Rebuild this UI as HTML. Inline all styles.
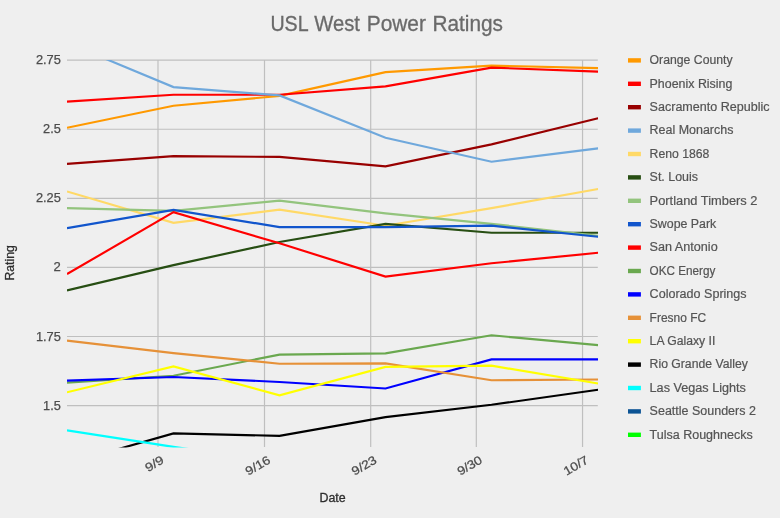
<!DOCTYPE html>
<html lang="en">
<head>
<meta charset="utf-8">
<title>USL West Power Ratings</title>
<style>
html,body{margin:0;padding:0;background:#efefef;}
body{width:780px;height:518px;overflow:hidden;}
svg{display:block;will-change:transform;}
text{font-family:"Liberation Sans",sans-serif;}
</style>
</head>
<body>
<svg width="780" height="518" viewBox="0 0 780 518">
<rect x="0" y="0" width="780" height="518" fill="#efefef"/>
<defs><clipPath id="plot"><rect x="67" y="60" width="531.1" height="387.45"/></clipPath></defs>
<text y="31.3" font-size="21.5" fill="#6a6a6a" stroke="#6a6a6a" stroke-width="0.3" lengthAdjust="spacingAndGlyphs"><tspan x="270.4" textLength="37.46" lengthAdjust="spacingAndGlyphs">USL</tspan> <tspan x="314.3" textLength="45.67" lengthAdjust="spacingAndGlyphs">West</tspan> <tspan x="366.73" textLength="59.23" lengthAdjust="spacingAndGlyphs">Power</tspan> <tspan x="432.43" textLength="70.59" lengthAdjust="spacingAndGlyphs">Ratings</tspan></text>
<g stroke="#bfbfbf" stroke-width="1.2" fill="none">
<line x1="158" y1="60" x2="158" y2="447"/>
<line x1="264.5" y1="60" x2="264.5" y2="447"/>
<line x1="370.7" y1="60" x2="370.7" y2="447"/>
<line x1="476.3" y1="60" x2="476.3" y2="447"/>
<line x1="582.55" y1="60" x2="582.55" y2="447"/>
</g>
<g stroke="#bfbfbf" stroke-width="1.15" fill="none">
<line x1="67" y1="60.15" x2="597.8" y2="60.15"/>
<line x1="67" y1="129.24" x2="597.8" y2="129.24"/>
<line x1="67" y1="198.33" x2="597.8" y2="198.33"/>
<line x1="67" y1="267.42" x2="597.8" y2="267.42"/>
<line x1="67" y1="336.51" x2="597.8" y2="336.51"/>
<line x1="67" y1="405.60" x2="597.8" y2="405.60"/>
</g>
<g clip-path="url(#plot)" fill="none" stroke-width="2.15" stroke-linejoin="miter">
<polyline stroke="#ff9900" points="67,127.8 173.5,105.7 279.5,95.9 385.5,72.1 491.5,65.6 598.1,68.1"/>
<polyline stroke="#ff0000" points="67,101.7 173.5,94.7 279.5,94.7 385.5,86.4 491.5,67.6 598.1,71.6"/>
<polyline stroke="#980000" points="67,163.9 173.5,156.1 279.5,156.9 385.5,166.4 491.5,144.4 598.1,118.3"/>
<polyline stroke="#6fa8dc" points="67,42.8 173.5,87.1 279.5,95.4 385.5,137.8 491.5,161.7 598.1,148.4"/>
<polyline stroke="#ffd966" points="67,191.5 173.5,222.9 279.5,209.6 385.5,225.7 491.5,208.1 598.1,189"/>
<polyline stroke="#274e13" points="67,290.4 173.5,265.1 279.5,242 385.5,223.9 491.5,232.7 598.1,232.7"/>
<polyline stroke="#93c47d" points="67,208.1 173.5,210.9 279.5,200.6 385.5,213.4 491.5,223.9 598.1,235.7"/>
<polyline stroke="#1155cc" points="67,228.2 173.5,209.9 279.5,227.1 385.5,227.1 491.5,225.7 598.1,236.7"/>
<polyline stroke="#ff0000" points="67,274.1 173.5,212.1 279.5,243.3 385.5,276.6 491.5,263.3 598.1,252.8"/>
<polyline stroke="#6aa84f" points="67,382.7 173.5,375.7 279.5,354.6 385.5,353.4 491.5,335.3 598.1,345.1"/>
<polyline stroke="#0000ff" points="67,380.7 173.5,377 279.5,382 385.5,388.5 491.5,359.4 598.1,359.4"/>
<polyline stroke="#e69138" points="67,340.6 173.5,353.1 279.5,363.7 385.5,363.4 491.5,380.2 598.1,379.5"/>
<polyline stroke="#ffff00" points="67,392.3 173.5,366.4 279.5,395.3 385.5,366.9 491.5,365.7 598.1,383.5"/>
<polyline stroke="#000000" points="67,463.6 173.5,433.4 279.5,435.9 385.5,417.1 491.5,404.8 598.1,389.8"/>
<polyline stroke="#00ffff" points="67,430.4 173.5,446.9 279.5,462 385.5,480 491.5,500 598.1,520"/>
</g>
<g font-size="12" fill="#4c4c4c" stroke="#4c4c4c" stroke-width="0.25" text-anchor="end">
<text x="60.8" y="64.15" textLength="24.9" lengthAdjust="spacingAndGlyphs">2.75</text>
<text x="60.8" y="133.24" textLength="17.7" lengthAdjust="spacingAndGlyphs">2.5</text>
<text x="60.8" y="202.33" textLength="24.9" lengthAdjust="spacingAndGlyphs">2.25</text>
<text x="60.8" y="271.42" textLength="7.3" lengthAdjust="spacingAndGlyphs">2</text>
<text x="60.8" y="340.51" textLength="24.9" lengthAdjust="spacingAndGlyphs">1.75</text>
<text x="60.8" y="409.6" textLength="17.7" lengthAdjust="spacingAndGlyphs">1.5</text>
</g>
<g font-size="12" fill="#4c4c4c" stroke="#4c4c4c" stroke-width="0.25" text-anchor="end">
<text x="164.9" y="462.4" transform="rotate(-30 164.9 462.4)" textLength="19.6" lengthAdjust="spacingAndGlyphs">9/9</text>
<text x="271.4" y="462.4" transform="rotate(-30 271.4 462.4)" textLength="26.6" lengthAdjust="spacingAndGlyphs">9/16</text>
<text x="377.6" y="462.4" transform="rotate(-30 377.6 462.4)" textLength="26.6" lengthAdjust="spacingAndGlyphs">9/23</text>
<text x="483.2" y="462.4" transform="rotate(-30 483.2 462.4)" textLength="26.6" lengthAdjust="spacingAndGlyphs">9/30</text>
<text x="589.45" y="462.4" transform="rotate(-30 589.45 462.4)" textLength="26.6" lengthAdjust="spacingAndGlyphs">10/7</text>
</g>
<text x="332.6" y="501.7" text-anchor="middle" font-size="12" fill="#2e2e2e" stroke="#2e2e2e" stroke-width="0.3" textLength="26.2" lengthAdjust="spacingAndGlyphs">Date</text>
<text x="14.2" y="262.9" text-anchor="middle" font-size="12" fill="#2e2e2e" stroke="#2e2e2e" stroke-width="0.3" transform="rotate(-90 14.2 262.9)" textLength="35.3" lengthAdjust="spacingAndGlyphs">Rating</text>
<g font-size="12" fill="#545454">
<rect x="628" y="58.2" width="12.9" height="4.4" fill="#ff9900"/>
<text stroke="#545454" stroke-width="0.2" x="649.6" y="64.1" textLength="83" lengthAdjust="spacingAndGlyphs">Orange County</text>
<rect x="628" y="81.6" width="12.9" height="4.4" fill="#ff0000"/>
<text stroke="#545454" stroke-width="0.2" x="649.6" y="87.5" textLength="82.8" lengthAdjust="spacingAndGlyphs">Phoenix Rising</text>
<rect x="628" y="105" width="12.9" height="4.4" fill="#980000"/>
<text stroke="#545454" stroke-width="0.2" x="649.6" y="110.9" textLength="119.9" lengthAdjust="spacingAndGlyphs">Sacramento Republic</text>
<rect x="628" y="128.4" width="12.9" height="4.4" fill="#6fa8dc"/>
<text stroke="#545454" stroke-width="0.2" x="649.6" y="134.3" textLength="83.8" lengthAdjust="spacingAndGlyphs">Real Monarchs</text>
<rect x="628" y="151.8" width="12.9" height="4.4" fill="#ffd966"/>
<text stroke="#545454" stroke-width="0.2" x="649.6" y="157.7" textLength="59.8" lengthAdjust="spacingAndGlyphs">Reno 1868</text>
<rect x="628" y="175.2" width="12.9" height="4.4" fill="#274e13"/>
<text stroke="#545454" stroke-width="0.2" x="649.6" y="181.1" textLength="48.4" lengthAdjust="spacingAndGlyphs">St. Louis</text>
<rect x="628" y="198.6" width="12.9" height="4.4" fill="#93c47d"/>
<text stroke="#545454" stroke-width="0.2" x="649.6" y="204.5" textLength="107.9" lengthAdjust="spacingAndGlyphs">Portland Timbers 2</text>
<rect x="628" y="222" width="12.9" height="4.4" fill="#1155cc"/>
<text stroke="#545454" stroke-width="0.2" x="649.6" y="227.9" textLength="66.7" lengthAdjust="spacingAndGlyphs">Swope Park</text>
<rect x="628" y="245.4" width="12.9" height="4.4" fill="#ff0000"/>
<text stroke="#545454" stroke-width="0.2" x="649.6" y="251.3" textLength="68.1" lengthAdjust="spacingAndGlyphs">San Antonio</text>
<rect x="628" y="268.8" width="12.9" height="4.4" fill="#6aa84f"/>
<text stroke="#545454" stroke-width="0.2" x="649.6" y="274.7" textLength="65.8" lengthAdjust="spacingAndGlyphs">OKC Energy</text>
<rect x="628" y="292.2" width="12.9" height="4.4" fill="#0000ff"/>
<text stroke="#545454" stroke-width="0.2" x="649.6" y="298.1" textLength="97" lengthAdjust="spacingAndGlyphs">Colorado Springs</text>
<rect x="628" y="315.6" width="12.9" height="4.4" fill="#e69138"/>
<text stroke="#545454" stroke-width="0.2" x="649.6" y="321.5" textLength="56.5" lengthAdjust="spacingAndGlyphs">Fresno FC</text>
<rect x="628" y="339" width="12.9" height="4.4" fill="#ffff00"/>
<text stroke="#545454" stroke-width="0.2" x="649.6" y="344.9" textLength="65.8" lengthAdjust="spacingAndGlyphs">LA Galaxy II</text>
<rect x="628" y="362.4" width="12.9" height="4.4" fill="#000000"/>
<text stroke="#545454" stroke-width="0.2" x="649.6" y="368.3" textLength="98.2" lengthAdjust="spacingAndGlyphs">Rio Grande Valley</text>
<rect x="628" y="385.8" width="12.9" height="4.4" fill="#00ffff"/>
<text stroke="#545454" stroke-width="0.2" x="649.6" y="391.7" textLength="96.3" lengthAdjust="spacingAndGlyphs">Las Vegas Lights</text>
<rect x="628" y="409.2" width="12.9" height="4.4" fill="#0b5394"/>
<text stroke="#545454" stroke-width="0.2" x="649.6" y="415.1" textLength="106.3" lengthAdjust="spacingAndGlyphs">Seattle Sounders 2</text>
<rect x="628" y="432.6" width="12.9" height="4.4" fill="#00ff00"/>
<text stroke="#545454" stroke-width="0.2" x="649.6" y="438.5" textLength="103.1" lengthAdjust="spacingAndGlyphs">Tulsa Roughnecks</text>
</g>
</svg>
</body>
</html>
